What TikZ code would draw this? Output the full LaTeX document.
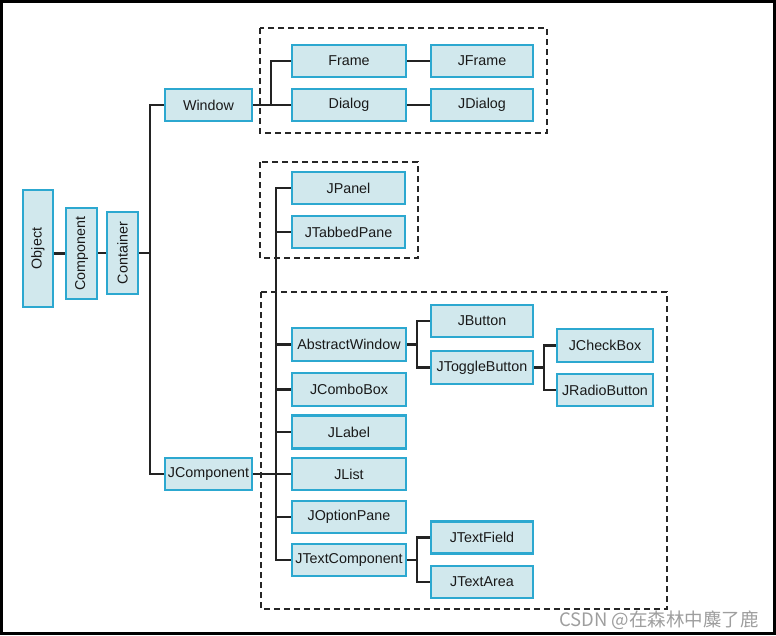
\documentclass[tikz,border=0pt]{standalone}
\usepackage{fontspec}
\setmainfont{Liberation Sans}
\newfontfamily\cjkfont{Noto Sans CJK SC}
\usetikzlibrary{calc}
\pgfdeclarelayer{bg}
\pgfsetlayers{bg,main}
\definecolor{boxfill}{RGB}{209,232,237}
\definecolor{boxline}{RGB}{44,168,208}
\definecolor{linkcol}{RGB}{35,35,35}
\tikzset{
  cls/.style={rectangle, draw=boxline, line width=2.2pt, fill=boxfill, inner sep=0pt,
    minimum height=32pt, text=black!90, font=\fontsize{14.3}{16}\selectfont},
  vcls/.style={cls, rotate=90},
  link/.style={draw=linkcol, line width=2.2pt},
  group/.style={draw=black!85, line width=2pt, dash pattern=on 6pt off 4pt},
}
\begin{document}
\begin{tikzpicture}[x=1pt,y=-1pt]
\useasboundingbox (0,0) rectangle (776,635);
\draw[line width=3pt] (1.5,1.5) rectangle (774.5,633.5);

% dashed groups
\draw[group] (260,28) rectangle (547,133);
\draw[group] (260,162) rectangle (418,258);
\draw[group] (261,292) rectangle (667,609);

% left column
\node[vcls, minimum width=117pt, minimum height=30pt] (obj) at (38,248.5) {Object};
\node[vcls, minimum width=91pt, minimum height=31pt] (comp) at (81.5,253.5) {Component};
\node[vcls, minimum width=82pt, minimum height=31pt] (cont) at (122.5,253) {Container};

\node[cls, minimum width=87pt] (win) at (208.5,105) {Window};
\node[cls, minimum width=87pt] (jcomp) at (208.5,474) {JComponent};

% window group
\node[cls, minimum width=114pt] (frame) at (349,61) {Frame};
\node[cls, minimum width=114pt] (dialog) at (349,105) {Dialog};
\node[cls, minimum width=102pt] (jframe) at (482,61) {JFrame};
\node[cls, minimum width=102pt] (jdialog) at (482,105) {JDialog};

% panel group
\node[cls, minimum width=113pt] (jpanel) at (348.5,188) {JPanel};
\node[cls, minimum width=113pt] (jtabbed) at (348.5,232) {JTabbedPane};

% component group
\node[cls, minimum width=114pt, minimum height=33pt] (absw) at (349,344.5) {AbstractWindow};
\node[cls, minimum width=114pt, minimum height=33pt] (jcombo) at (349,389.5) {JComboBox};
\node[cls, minimum width=114pt, minimum height=33pt] (jlabel) at (349,432) {JLabel};
\node[cls, minimum width=114pt] (jlist) at (349,474) {JList};
\node[cls, minimum width=114pt] (jopt) at (349,517) {JOptionPane};
\node[cls, minimum width=114pt] (jtextc) at (349,560) {JTextComponent};

\node[cls, minimum width=102pt] (jbutton) at (482,321) {JButton};
\node[cls, minimum width=102pt, minimum height=33pt] (jtoggle) at (482,367.5) {JToggleButton};
\node[cls, minimum width=96pt, minimum height=33pt] (jcheck) at (605,345.5) {JCheckBox};
\node[cls, minimum width=96pt] (jradio) at (605,390) {JRadioButton};

\node[cls, minimum width=102pt] (jtfield) at (482,537.5) {JTextField};
\node[cls, minimum width=102pt] (jtarea) at (482,582) {JTextArea};

% connectors
\begin{pgfonlayer}{bg}
\draw[link] (comp.north) -- (comp.north -| obj.south);
\draw[link] (cont.north) -- (cont.north -| comp.south);
\coordinate (wx) at ($(win.west)+(-14,0)$);
\draw[link] (win.west) -- (wx) |- (jcomp.west);
\draw[link] (cont.south) -- (cont.south -| wx);

\coordinate (dx) at ($(dialog.west)+(-20,0)$);
\draw[link] (win.east) -- (dialog.west);
\draw[link] (dx) |- (frame.west);
\draw[link] (frame.east) -- (jframe.west);
\draw[link] (dialog.east) -- (jdialog.west);

\coordinate (t2) at ($(jpanel.west)+(-15,0)$);
\draw[link] (jpanel.west) -- (t2) |- (jtextc.west);
\foreach \n in {jtabbed,absw,jcombo,jlabel,jopt}
  \draw[link] (\n.west) -- (\n.west -| t2);
\draw[link] (jcomp.east) -- (jlist.west);

\coordinate (ab) at ($(jbutton.west)+(-13,0)$);
\draw[link] (jbutton.west) -- (ab) |- (jtoggle.west);
\draw[link] (absw.east) -- (absw.east -| ab);

\coordinate (tb) at ($(jcheck.west)+(-12,0)$);
\draw[link] (jcheck.west) -- (tb) |- (jradio.west);
\draw[link] (jtoggle.east) -- (jtoggle.east -| tb);

\coordinate (tc) at ($(jtfield.west)+(-13,0)$);
\draw[link] (jtfield.west) -- (tc) |- (jtarea.west);
\draw[link] (jtextc.east) -- (jtextc.east -| tc);
\end{pgfonlayer}

% watermark
\node[anchor=base west, inner sep=0pt, text=black!38, font=\cjkfont\fontsize{18.5}{20}\selectfont] (wm) at (559,626) {CSDN @在森林中麋了鹿};
\end{tikzpicture}
\end{document}
